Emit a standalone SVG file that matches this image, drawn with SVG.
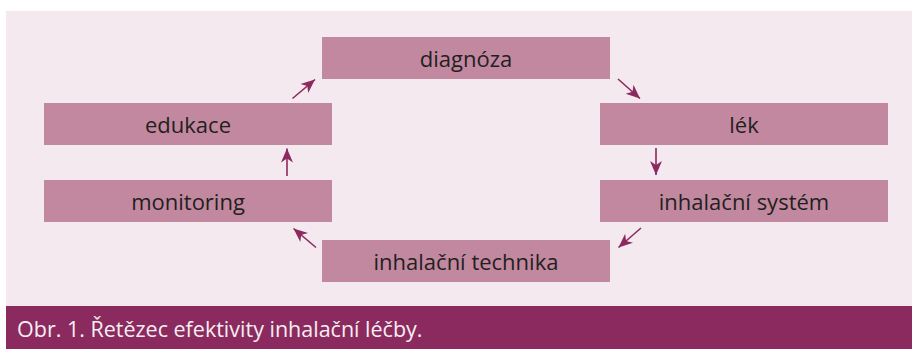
<svg xmlns="http://www.w3.org/2000/svg" width="912" height="350" viewBox="0 0 912 350">
<defs>
<style>
.box{fill:#c2889f}
.lbl{font-family:"Open Sans","Liberation Sans",sans-serif;font-size:22px;fill:#231f20;text-anchor:middle}
.cap{font-family:"Open Sans","Liberation Sans",sans-serif;font-size:21.5px;fill:#f7eef2}
.con{stroke:#8b2a5e;stroke-width:1.6;fill:none;marker-end:url(#ah)}
</style>
<marker id="ah" markerUnits="userSpaceOnUse" markerWidth="16" markerHeight="14" refX="14" refY="6" orient="auto" viewBox="0 0 16 12">
<path d="M0,0 L14,6 L0,12 L4,6 Z" fill="#8b2a5e"/>
</marker>
</defs>
<rect x="0" y="0" width="912" height="350" fill="#ffffff"/>
<rect x="6" y="11" width="906" height="295" fill="#f4e9ee"/>
<rect x="6" y="306" width="906" height="43" fill="#8b2a5e"/>
<text class="cap" x="17" y="337">Obr. 1. Řetězec efektivity inhalační léčby.</text>
<g id="diagnoza"><rect class="box" x="322" y="37" width="288" height="42"/><text class="lbl" x="466" y="66.5">diagnóza</text></g>
<g id="lek"><rect class="box" x="600" y="103" width="288" height="42"/><text class="lbl" x="744" y="133">lék</text></g>
<g id="system"><rect class="box" x="600" y="180" width="288" height="42"/><text class="lbl" x="744" y="210">inhalační systém</text></g>
<g id="technika"><rect class="box" x="322" y="240" width="288" height="42"/><text class="lbl" x="466" y="270">inhalační technika</text></g>
<g id="monitoring"><rect class="box" x="44" y="180" width="288" height="42"/><text class="lbl" x="188" y="210">monitoring</text></g>
<g id="edukace"><rect class="box" x="44" y="103" width="288" height="42"/><text class="lbl" x="188" y="133">edukace</text></g>
<g id="connectors">
<line class="con" x1="618" y1="79" x2="640" y2="98.5"/>
<line class="con" x1="656" y1="148" x2="656" y2="175"/>
<line class="con" x1="641" y1="228" x2="618.5" y2="247.5"/>
<line class="con" x1="316" y1="247.5" x2="293.5" y2="228.5"/>
<line class="con" x1="287" y1="176" x2="287" y2="148.5"/>
<line class="con" x1="292.5" y1="98.5" x2="315" y2="79.5"/>
</g>
</svg>
